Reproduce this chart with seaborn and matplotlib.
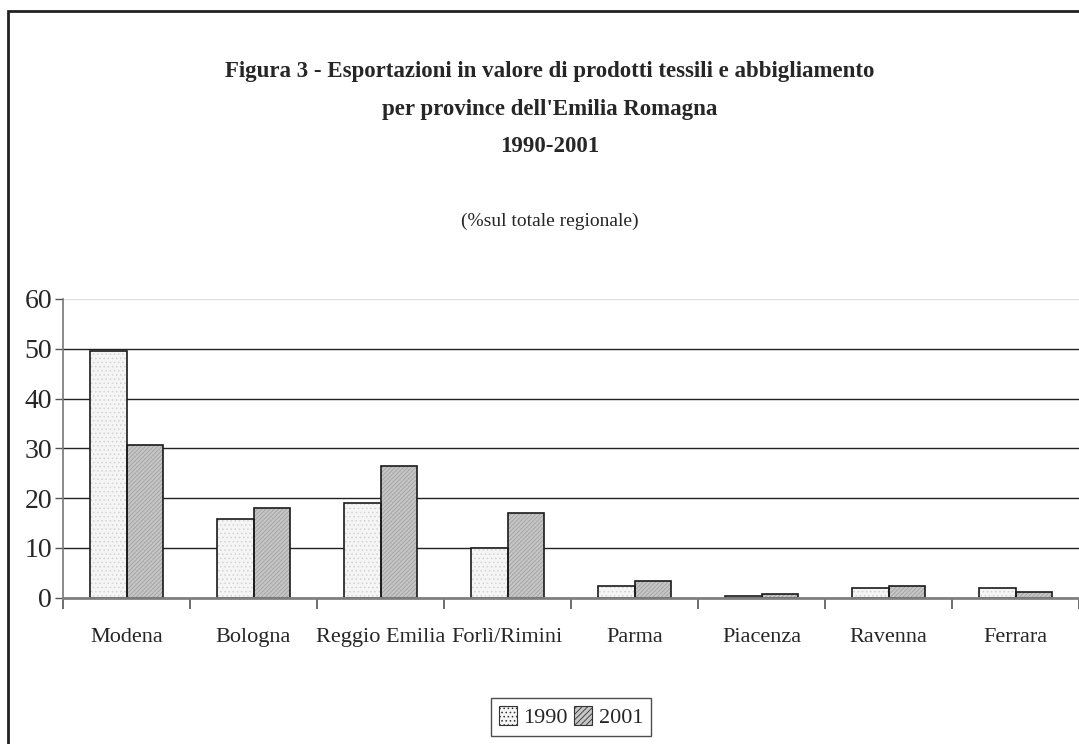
import matplotlib
matplotlib.use("Agg")
import matplotlib.pyplot as plt
from matplotlib.patches import Rectangle, Patch
import pandas as pd
import seaborn as sns

# Export shares by province (% of regional total)
province = ["Modena", "Bologna", "Reggio Emilia", "Forlì/Rimini",
            "Parma", "Piacenza", "Ravenna", "Ferrara"]
val_1990 = [49.5, 15.8, 18.9, 9.9, 2.4, 0.3, 1.9, 1.9]
val_2001 = [30.6, 18.0, 26.4, 16.9, 3.4, 0.7, 2.3, 1.1]
anni = ["1990", "2001"]
y_ticks = [0, 10, 20, 30, 40, 50, 60]

df = pd.DataFrame({
    "provincia": province * 2,
    "valore": val_1990 + val_2001,
    "anno": [anni[0]] * len(province) + [anni[1]] * len(province),
})

sns.set_theme(style="white")
plt.rcParams["font.family"] = ["Liberation Serif", "DejaVu Serif"]
plt.rcParams["hatch.linewidth"] = 0.6

fig = plt.figure(figsize=(10.79, 7.44), dpi=100)
ax = fig.add_axes([63 / 1079, 1 - 597.5 / 744, 1 - 63 / 1079, (597.5 - 299) / 744])

face_cols = ["#f5f5f5", "#c6c6c6"]
hatch_cols = ["#d2d2d2", "#a0a0a0"]
hatches = ["....", "////////"]

sns.barplot(data=df, x="provincia", y="valore", hue="anno", order=province,
            hue_order=anni, palette=face_cols, width=0.57, linewidth=0,
            legend=False, ax=ax, zorder=3)

# hatch fill plus a dark outline on every bar
for cont, hc, h in zip(ax.containers, hatch_cols, hatches):
    for bar in cont:
        bar.set_hatch(h)
        bar.set_edgecolor(hc)
        bar.set_linewidth(0)
        x0, y0 = bar.get_xy()
        ax.add_patch(Rectangle((x0, y0), bar.get_width(), bar.get_height(),
                               fill=False, edgecolor="#1a1a1a", linewidth=1.2,
                               zorder=4))

ax.set_ylim(0, 60)
ax.set_xlim(-0.5, len(province) - 0.5)
ax.set_yticks(y_ticks)
ax.set_yticklabels([str(t) for t in y_ticks], fontsize=20)
ax.set_xlabel("")
ax.set_ylabel("")

ax.yaxis.grid(True, color="#222222", linewidth=1.0, zorder=0)
ax.set_axisbelow(True)
ax.get_ygridlines()[-1].set_color("#dddddd")

# category labels centered, tick marks on category boundaries
ax.tick_params(axis="x", which="major", length=0, labelsize=16, pad=22)
ax.set_xticks([i - 0.5 for i in range(len(province) + 1)], minor=True)
ax.tick_params(axis="x", which="minor", length=8, width=1.2, color="#555555",
               direction="out", bottom=True)
ax.tick_params(axis="y", length=6, width=1, color="#555555", direction="out",
               left=True, pad=2)

for s in ["top", "right"]:
    ax.spines[s].set_visible(False)
ax.spines["left"].set_color("#777777")
ax.spines["left"].set_linewidth(1.2)
ax.spines["bottom"].set_color("#808080")
ax.spines["bottom"].set_linewidth(2)
ax.spines["bottom"].set_zorder(5)

# chart frame
fig.patches.append(Rectangle((8 / 1079, -0.1), 1.2, 1 - 11 / 744 + 0.1,
                             transform=fig.transFigure, fill=False,
                             edgecolor="#222222", linewidth=2))

cx = 550 / 1079
fig.text(cx, 1 - 71 / 744,
         "Figura 3 - Esportazioni in valore di prodotti tessili e abbigliamento",
         ha="center", va="center", fontsize=16.5, fontweight="bold")
fig.text(cx, 1 - 109 / 744, "per province dell'Emilia Romagna",
         ha="center", va="center", fontsize=16.5, fontweight="bold")
fig.text(cx, 1 - 146 / 744, "1990-2001",
         ha="center", va="center", fontsize=16.5, fontweight="bold")
fig.text(cx, 1 - 221 / 744, "(%sul totale regionale)",
         ha="center", va="center", fontsize=14)

handles = [Patch(facecolor=fc, edgecolor="#333333", hatch=h, linewidth=0.8)
           for fc, h in zip(face_cols, ["....", "//////"])]
leg = fig.legend(handles, anni, loc="center",
                 bbox_to_anchor=(571 / 1079, 1 - 717 / 744), ncol=2,
                 fontsize=16, frameon=True, fancybox=False,
                 handlelength=0.8, handleheight=0.9, handletextpad=0.3,
                 columnspacing=0.3, borderpad=0.35)
leg.get_frame().set_edgecolor("#222222")
leg.get_frame().set_linewidth(1)

fig.savefig("out.png", dpi=100, facecolor="white")
